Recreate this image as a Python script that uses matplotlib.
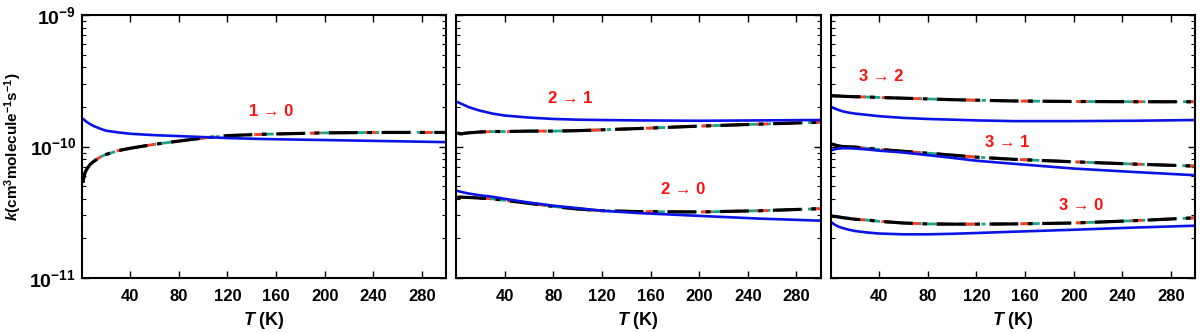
import numpy as np
import matplotlib
matplotlib.use("Agg")
import matplotlib.pyplot as plt
from matplotlib.ticker import LogLocator, FixedLocator, NullFormatter, NullLocator

plt.rcParams['font.family'] = ['Liberation Sans', 'DejaVu Sans']
plt.rcParams['font.weight'] = 'bold'
plt.rcParams['mathtext.fontset'] = 'custom'
plt.rcParams['mathtext.rm'] = 'Liberation Sans:bold'
plt.rcParams['mathtext.bf'] = 'Liberation Sans:bold'
plt.rcParams['mathtext.it'] = 'Liberation Sans:bold:italic'
plt.rcParams['mathtext.default'] = 'rm'

# Temperature grid (K)
T = [1, 2, 3, 5, 7, 10, 15, 20, 30, 40, 60, 80, 100, 120, 150, 200, 250, 300]

# Panel 1: 1 -> 0
k10_blue = [1.62e-10, 1.60e-10, 1.57e-10, 1.52e-10, 1.48e-10, 1.43e-10, 1.37e-10, 1.32e-10, 1.28e-10, 1.25e-10, 1.22e-10, 1.20e-10, 1.18e-10, 1.16e-10, 1.14e-10, 1.12e-10, 1.10e-10, 1.08e-10]
k10_black = [0.53e-10, 0.59e-10, 0.64e-10, 0.69e-10, 0.73e-10, 0.77e-10, 0.83e-10, 0.87e-10, 0.93e-10, 0.97e-10, 1.04e-10, 1.10e-10, 1.16e-10, 1.21e-10, 1.24e-10, 1.27e-10, 1.28e-10, 1.28e-10]

# Panel 2: 2 -> 1, 2 -> 0
k21_blue = [2.18e-10, 2.16e-10, 2.14e-10, 2.10e-10, 2.06e-10, 2.00e-10, 1.93e-10, 1.87e-10, 1.78e-10, 1.72e-10, 1.66e-10, 1.62e-10, 1.60e-10, 1.59e-10, 1.58e-10, 1.57e-10, 1.58e-10, 1.59e-10]
k21_black = [1.27e-10, 1.26e-10, 1.25e-10, 1.25e-10, 1.26e-10, 1.27e-10, 1.28e-10, 1.29e-10, 1.30e-10, 1.30e-10, 1.31e-10, 1.31e-10, 1.32e-10, 1.34e-10, 1.37e-10, 1.43e-10, 1.48e-10, 1.53e-10]
k20_blue = [4.6e-11, 4.58e-11, 4.55e-11, 4.5e-11, 4.46e-11, 4.4e-11, 4.32e-11, 4.25e-11, 4.15e-11, 4.0e-11, 3.75e-11, 3.55e-11, 3.4e-11, 3.25e-11, 3.12e-11, 2.97e-11, 2.83e-11, 2.73e-11]
k20_black = [4.1e-11, 4.11e-11, 4.12e-11, 4.12e-11, 4.11e-11, 4.1e-11, 4.08e-11, 4.05e-11, 4.0e-11, 3.9e-11, 3.7e-11, 3.5e-11, 3.35e-11, 3.25e-11, 3.2e-11, 3.18e-11, 3.25e-11, 3.37e-11]

# Panel 3: 3 -> 2, 3 -> 1, 3 -> 0
k32_black = [2.43e-10, 2.43e-10, 2.43e-10, 2.42e-10, 2.42e-10, 2.41e-10, 2.40e-10, 2.39e-10, 2.38e-10, 2.36e-10, 2.33e-10, 2.30e-10, 2.27e-10, 2.25e-10, 2.22e-10, 2.20e-10, 2.19e-10, 2.19e-10]
k32_blue = [1.99e-10, 1.97e-10, 1.95e-10, 1.92e-10, 1.89e-10, 1.85e-10, 1.81e-10, 1.78e-10, 1.74e-10, 1.70e-10, 1.65e-10, 1.62e-10, 1.60e-10, 1.58e-10, 1.56e-10, 1.56e-10, 1.57e-10, 1.59e-10]
k31_black = [1.04e-10, 1.04e-10, 1.03e-10, 1.02e-10, 1.01e-10, 1.00e-10, 0.995e-10, 0.99e-10, 0.97e-10, 0.95e-10, 0.92e-10, 0.89e-10, 0.86e-10, 0.83e-10, 0.80e-10, 0.765e-10, 0.735e-10, 0.71e-10]
k31_blue = [0.94e-10, 0.945e-10, 0.95e-10, 0.96e-10, 0.965e-10, 0.97e-10, 0.97e-10, 0.965e-10, 0.95e-10, 0.93e-10, 0.90e-10, 0.86e-10, 0.82e-10, 0.78e-10, 0.74e-10, 0.68e-10, 0.64e-10, 0.605e-10]
k30_black = [2.96e-11, 2.95e-11, 2.94e-11, 2.93e-11, 2.91e-11, 2.88e-11, 2.84e-11, 2.80e-11, 2.76e-11, 2.70e-11, 2.62e-11, 2.58e-11, 2.57e-11, 2.57e-11, 2.58e-11, 2.62e-11, 2.73e-11, 2.87e-11]
k30_blue = [2.64e-11, 2.60e-11, 2.56e-11, 2.50e-11, 2.45e-11, 2.40e-11, 2.33e-11, 2.28e-11, 2.22e-11, 2.18e-11, 2.15e-11, 2.15e-11, 2.17e-11, 2.20e-11, 2.25e-11, 2.33e-11, 2.42e-11, 2.50e-11]

panels = [
    [(k10_blue, k10_black)],
    [(k21_blue, k21_black), (k20_blue, k20_black)],
    [(k32_blue, k32_black), (k31_blue, k31_black), (k30_blue, k30_black)],
]
labels = [
    [("1 \u2192 0", 156, 1.86e-10)],
    [("2 \u2192 1", 94, 2.3e-10), ("2 \u2192 0", 187, 4.75e-11)],
    [("3 \u2192 2", 42, 3.38e-10), ("3 \u2192 1", 145, 1.08e-10), ("3 \u2192 0", 206, 3.59e-11)],
]

xticks = [40, 80, 120, 160, 200, 240, 280]

fig, axes = plt.subplots(1, 3, figsize=(12, 3.33), dpi=100, sharey=True)
fig.subplots_adjust(left=0.068, right=0.996, top=0.955, bottom=0.165, wspace=0.027)

blue = '#0a14e6'
teal = '#1aa58a'
red = '#ff3b1f'

for ax, curves, labs in zip(axes, panels, labels):
    for kb, kk in curves:
        ax.plot(T, kk, color=teal, lw=2.0, ls=(0, (6, 2, 1.5, 2)))
        ax.plot(T, kk, color=red, lw=2.0, ls=(2, (4, 6)))
        ax.plot(T, kk, color='black', lw=2.3, ls=(0, (9, 3, 1.5, 3)))
        ax.plot(T, kb, color=blue, lw=1.9)
    for txt, x, y in labs:
        ax.text(x, y, txt, color='#ff1010', fontsize=12, fontweight='bold',
                ha='center', va='center')
    ax.set_yscale('log')
    ax.set_ylim(1e-11, 1e-9)
    ax.set_xlim(0, 300)
    ax.xaxis.set_major_locator(FixedLocator(xticks))
    ax.xaxis.set_minor_locator(NullLocator())
    ax.yaxis.set_major_locator(FixedLocator([1e-11, 1e-10, 1e-9]))
    ax.yaxis.set_minor_locator(LogLocator(base=10, subs=np.arange(2, 10)))
    ax.yaxis.set_minor_formatter(NullFormatter())
    ax.tick_params(which='both', direction='in', top=True, right=True)
    ax.tick_params(which='major', length=5, width=1.0)
    ax.tick_params(which='minor', length=3, width=0.8)
    ax.tick_params(axis='x', labelsize=12, pad=8)
    for s in ax.spines.values():
        s.set_linewidth(1.5)
    ax.set_xlabel(r'$\it{T}$ (K)', fontsize=13, fontweight='bold')
    for lbl in ax.get_xticklabels():
        lbl.set_fontweight('bold')

axes[0].set_yticklabels([r'$10^{-11}$', r'$10^{-10}$', r'$10^{-9}$'], fontsize=14)
axes[0].tick_params(axis='y', pad=4)
for ax in axes[1:]:
    ax.tick_params(axis='y', labelleft=False)
axes[0].set_ylabel(r'$\it{k}$(cm$^3$molecule$^{-1}$s$^{-1}$)', fontsize=11, fontweight='bold')

fig.savefig('out.png', dpi=100)
